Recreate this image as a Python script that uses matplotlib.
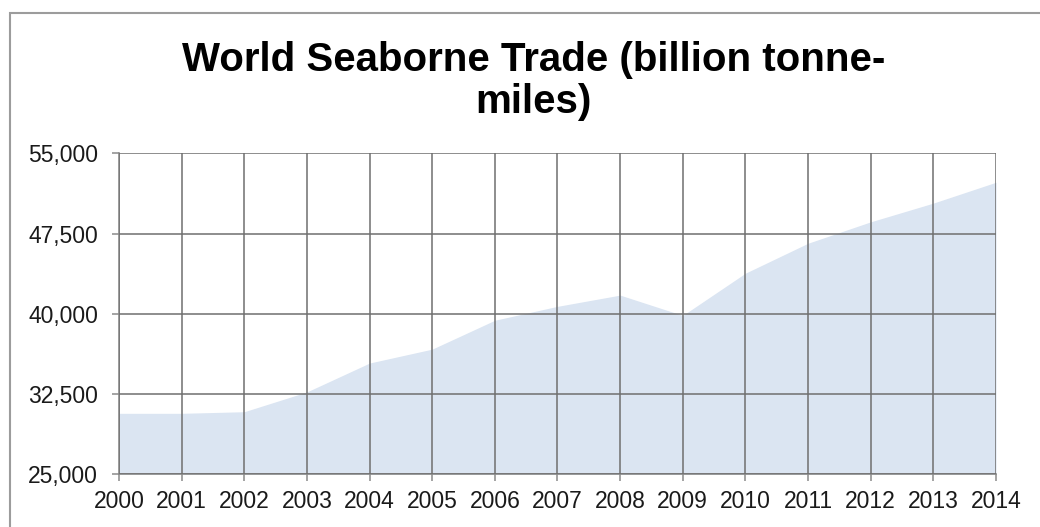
import numpy as np
import matplotlib.pyplot as plt
from matplotlib.patches import Rectangle
from matplotlib.ticker import FuncFormatter

plt.rcParams['font.family'] = ['Liberation Sans', 'DejaVu Sans']

years = [2000, 2001, 2002, 2003, 2004, 2005, 2006, 2007,
         2008, 2009, 2010, 2011, 2012, 2013, 2014]
tonne_miles = [30700, 30700, 30850, 32700, 35400, 36700, 39400, 40700,
               41750, 39850, 43800, 46600, 48600, 50350, 52300]
y_ticks = [25000, 32500, 40000, 47500, 55000]

fig = plt.figure(figsize=(10.4, 5.27), dpi=100)
ax = fig.add_axes([0.1144, 0.100, 0.8433, 0.609])

# light blue area down to the axis floor
ax.fill_between(years, tonne_miles, y_ticks[0], color='#dbe5f2', linewidth=0, zorder=1)

ax.set_xlim(years[0], years[-1])
ax.set_ylim(y_ticks[0], y_ticks[-1])
ax.set_xticks(years)
ax.set_yticks(y_ticks)
ax.yaxis.set_major_formatter(FuncFormatter(lambda v, p: f'{int(v):,}'))

ax.grid(True, color='#6f6f6f', linewidth=1.1, zorder=2)
ax.set_axisbelow(False)
for side in ['top', 'right']:
    ax.spines[side].set_visible(False)
for side in ['left', 'bottom']:
    ax.spines[side].set_color('#8a8a8a')
    ax.spines[side].set_linewidth(1.2)

ax.tick_params(axis='both', direction='out', length=5, width=1.1, color='#8a8a8a',
               labelsize=16.5, labelcolor='#1a1a1a')
ax.tick_params(axis='x', pad=6)
ax.tick_params(axis='y', pad=10)

fig.text(0.513, 0.846, 'World Seaborne Trade (billion tonne-\nmiles)',
         ha='center', va='center', fontsize=29, fontweight='bold',
         linespacing=1.12, color='black')

# chart frame, running off the right and bottom edges
fig.patches.append(Rectangle((10 / 1040, -0.05), 1.1, 1 - 13 / 527 + 0.05,
                             transform=fig.transFigure, fill=False,
                             edgecolor='#9c9c9c', linewidth=1.5))

fig.savefig('out.png', dpi=100)
